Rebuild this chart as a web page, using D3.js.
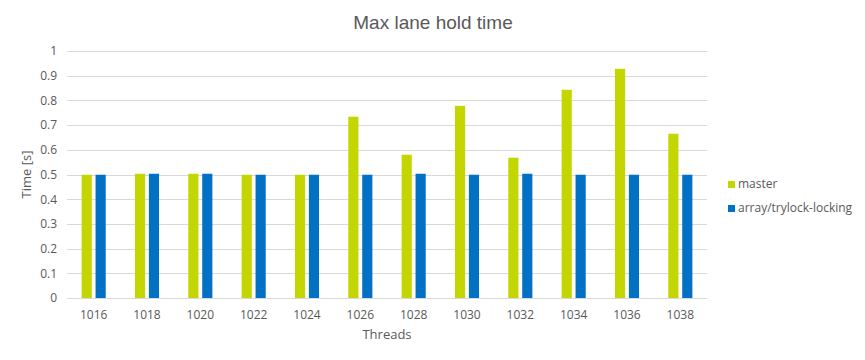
<!DOCTYPE html>
<html>
<head>
<meta charset="utf-8">
<script src="https://cdn.jsdelivr.net/npm/d3@7"></script>
<style>
  body { margin: 0; background: #fff; }
  svg text { font-family: "Open Sans", sans-serif; fill: #595959; }
</style>
</head>
<body>
<svg id="chart" width="865" height="360"></svg>
<script>
// thread counts on the x axis
const threads = ["1016", "1018", "1020", "1022", "1024", "1026", "1028", "1030", "1032", "1034", "1036", "1038"];
const seriesNames = ["master", "array/trylock-locking"];
const masterValues = [0.499, 0.503, 0.503, 0.499, 0.499, 0.734, 0.580, 0.778, 0.568, 0.843, 0.928, 0.665];
const trylockValues = [0.499, 0.503, 0.503, 0.499, 0.499, 0.499, 0.503, 0.499, 0.503, 0.499, 0.499, 0.499];
const yTicks = [0, 0.1, 0.2, 0.3, 0.4, 0.5, 0.6, 0.7, 0.8, 0.9, 1];

const colors = ["#c4d600", "#0071c5"];
const width = 865, height = 360;
const margin = { top: 51, right: 158, bottom: 62, left: 67 };

const svg = d3.select("#chart");

const x = d3.scaleBand()
  .domain(threads)
  .range([margin.left, width - margin.right]);

const xInner = d3.scaleBand()
  .domain(seriesNames)
  .range([0, x.bandwidth()])
  .paddingInner(0.27)
  .paddingOuter(1.05);

const y = d3.scaleLinear()
  .domain([0, 1])
  .range([height - margin.bottom, margin.top]);

// gridlines
svg.append("g")
  .selectAll("line")
  .data(yTicks)
  .join("line")
  .attr("x1", margin.left)
  .attr("x2", width - margin.right)
  .attr("y1", d => Math.round(y(d)) + 0.5)
  .attr("y2", d => Math.round(y(d)) + 0.5)
  .attr("stroke", "#d9d9d9")
  .attr("stroke-width", 1);

// y tick labels
svg.append("g")
  .attr("transform", `translate(${margin.left - 10},0)`)
  .call(d3.axisLeft(y).tickValues(yTicks).tickSize(0).tickPadding(0).tickFormat(d3.format("~g")))
  .call(g => g.select(".domain").remove())
  .call(g => g.selectAll("text").attr("font-size", "12px").attr("fill", "#595959"));

// bars
const data = threads.map((t, i) => ({ t, values: [masterValues[i], trylockValues[i]] }));
svg.append("g")
  .selectAll("g")
  .data(data)
  .join("g")
  .attr("transform", d => `translate(${x(d.t)},0)`)
  .selectAll("rect")
  .data(d => d.values.map((v, k) => ({ name: seriesNames[k], v, k })))
  .join("rect")
  .attr("x", d => xInner(d.name))
  .attr("width", xInner.bandwidth())
  .attr("y", d => y(d.v))
  .attr("height", d => y(0) - y(d.v))
  .attr("fill", d => colors[d.k]);

// x axis labels
svg.append("g")
  .attr("transform", `translate(0,${height - margin.bottom + 12})`)
  .call(d3.axisBottom(x).tickSize(0).tickPadding(0))
  .call(g => g.select(".domain").remove())
  .call(g => g.selectAll("text").attr("font-size", "12px").attr("fill", "#595959"));

// title
svg.append("text")
  .attr("x", 433)
  .attr("y", 29)
  .attr("text-anchor", "middle")
  .style("font-family", "'Liberation Sans Narrow', sans-serif")
  .style("font-size", "19px")
  .text("Max lane hold time");

// axis titles
svg.append("text")
  .attr("x", (margin.left + width - margin.right) / 2)
  .attr("y", 339)
  .attr("text-anchor", "middle")
  .attr("font-size", "13px")
  .text("Threads");

svg.append("text")
  .attr("transform", `translate(31,${(margin.top + height - margin.bottom) / 2}) rotate(-90)`)
  .attr("text-anchor", "middle")
  .attr("font-size", "13px")
  .text("Time [s]");

// legend
const legend = svg.append("g")
  .selectAll("g")
  .data(seriesNames)
  .join("g")
  .attr("transform", (d, i) => `translate(728,${181 + i * 24})`);

legend.append("rect")
  .attr("width", 7)
  .attr("height", 7)
  .attr("fill", (d, i) => colors[i]);

legend.append("text")
  .attr("x", 10)
  .attr("y", 7)
  .attr("font-size", "12px")
  .text(d => d);
</script>
</body>
</html>
